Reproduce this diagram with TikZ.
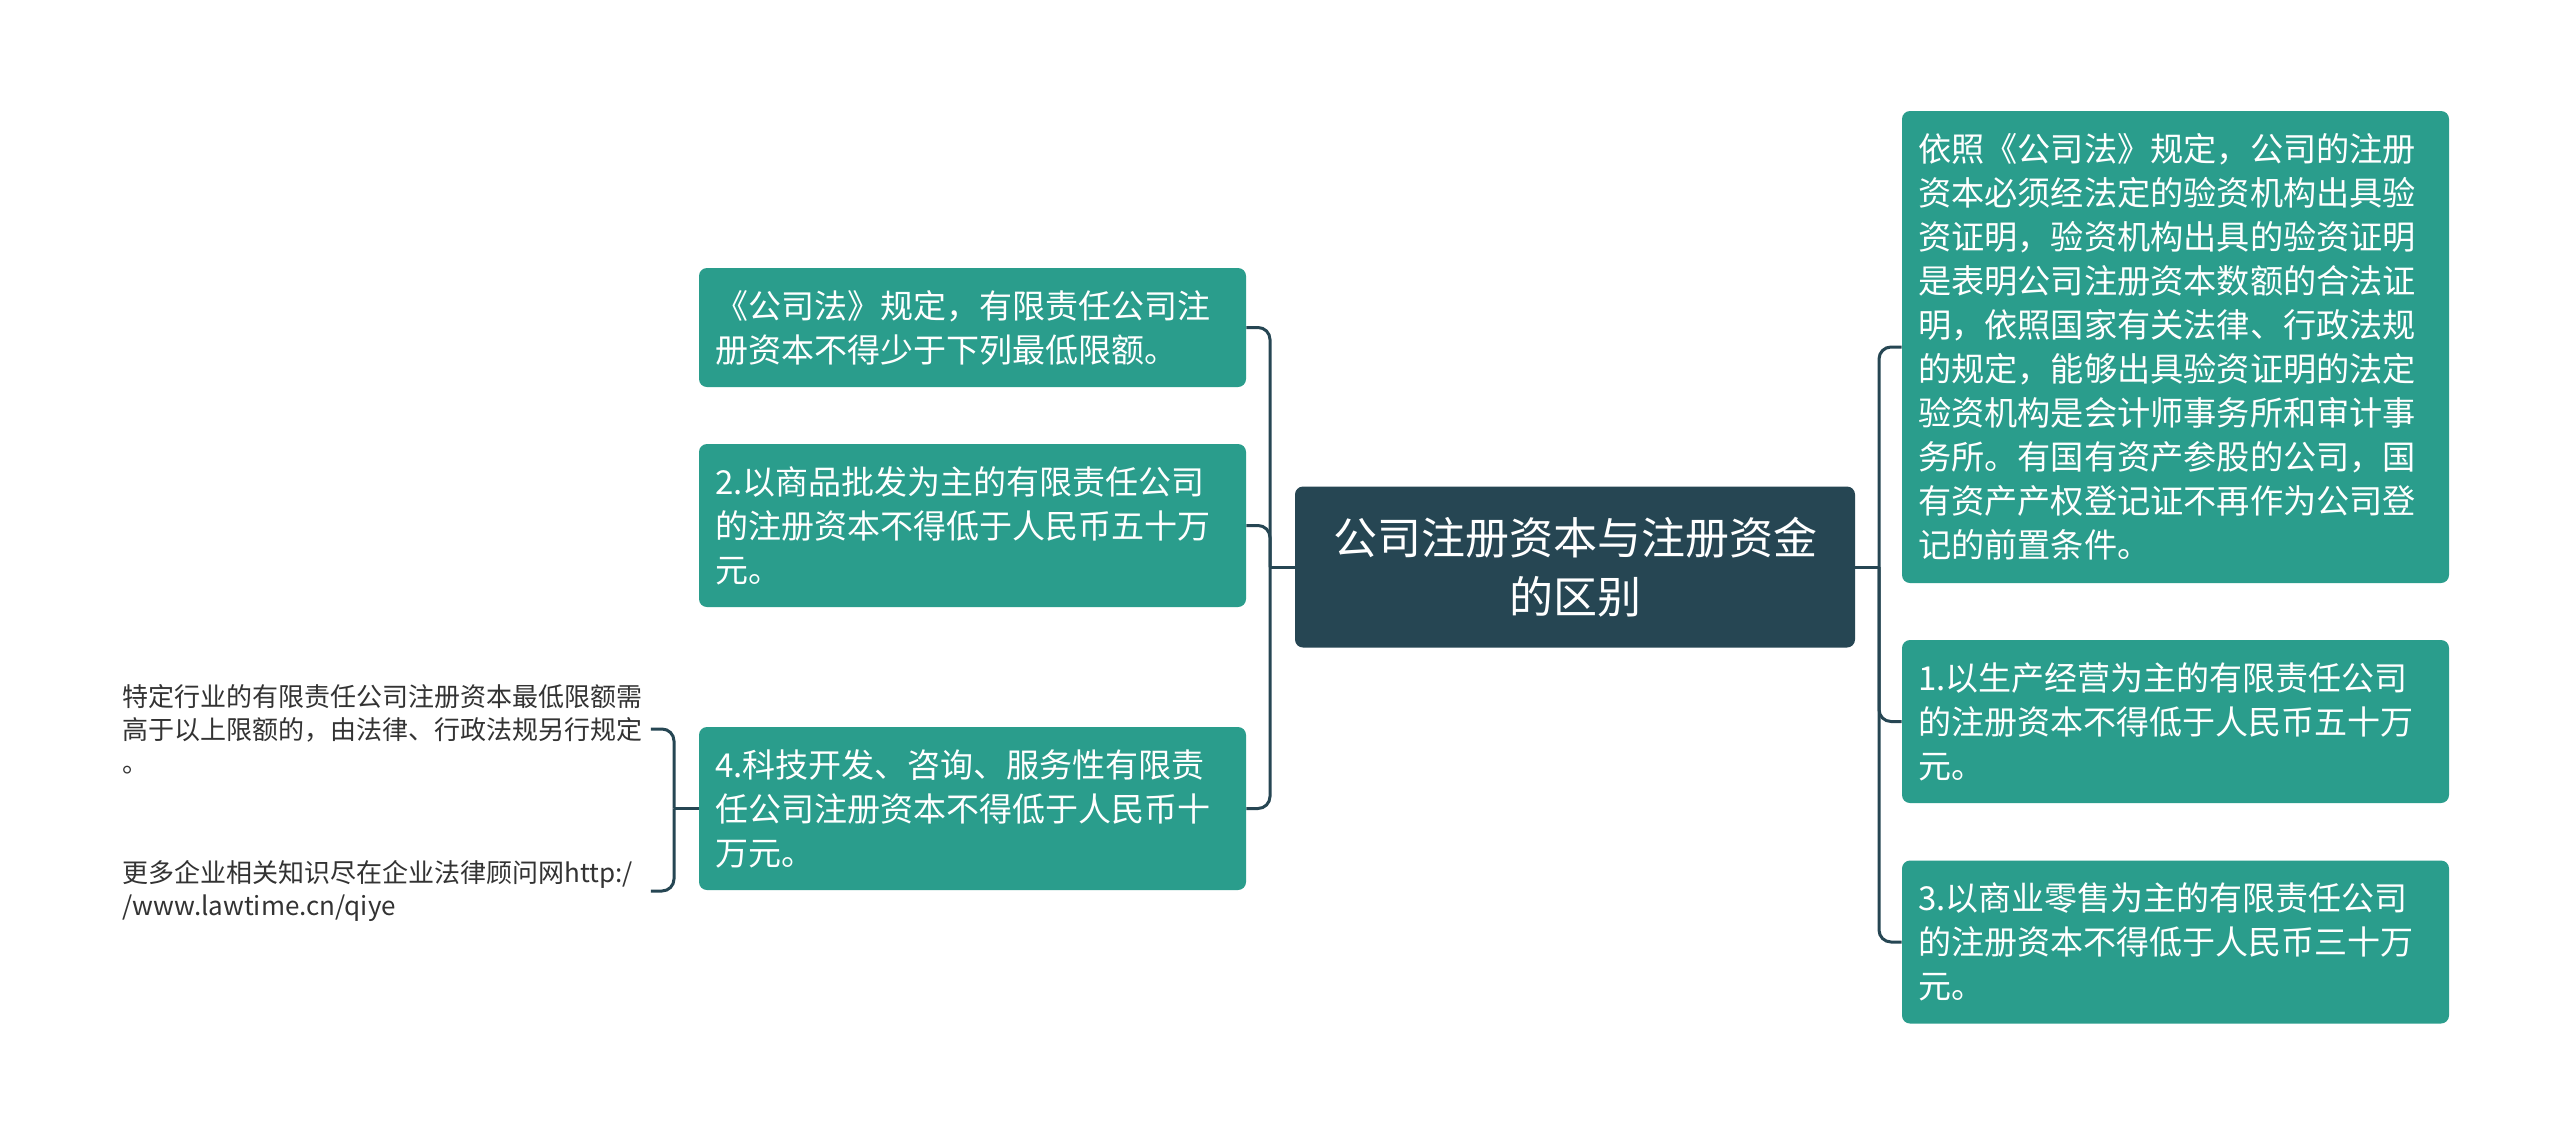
\documentclass[tikz,border=0pt]{standalone}
\usepackage{fontspec}
\setmainfont{Noto Sans CJK SC}
\definecolor{leafteal}{HTML}{2A9D8C}
\definecolor{rootblue}{HTML}{264653}
\definecolor{notegray}{HTML}{333333}
\tikzset{
  conn/.style={draw=rootblue, line width=1.5pt, rounded corners=6pt},
  rootbox/.style={rectangle, rounded corners=4pt, fill=rootblue, text=white, align=center,
    minimum width=280pt, minimum height=80.5pt, font=\fontsize{22}{29.5}\selectfont},
  leafbox/.style={rectangle, rounded corners=4pt, fill=leafteal, text=white, align=left,
    text width=257.5pt, inner xsep=8pt, minimum height=81.5pt, font=\fontsize{16.5}{22}\selectfont},
  notetext/.style={anchor=west, text=notegray, align=left, text width=259pt, inner xsep=5pt,
    font=\fontsize{13}{16.5}\selectfont},
}
\begin{document}
\begin{tikzpicture}[x=0.5pt,y=-0.5pt]
  \useasboundingbox[fill=white] (0,0) rectangle (2560,1137);

  % centre
  \node[rootbox] (root) at (1575,567) {公司注册资本与注册资金\\的区别};

  % left branch
  \node[leafbox, minimum height=59.5pt] (law) at (972.5,327.5)
    {《公司法》规定，有限责任公司注\\册资本不得少于下列最低限额。};
  \node[leafbox] (trade) at (972.5,525.5)
    {2.以商品批发为主的有限责任公司\\的注册资本不得低于人民币五十万\\元。};
  \node[leafbox] (tech) at (972.5,808.5)
    {4.科技开发、咨询、服务性有限责\\任公司注册资本不得低于人民币十\\万元。};

  % right branch
  \node[leafbox, minimum height=236pt, font=\fontsize{16.6}{22}\selectfont] (verify) at (2175.5,347)
    {依照《公司法》规定，公司的注册\\资本必须经法定的验资机构出具验\\资证明，验资机构出具的验资证明\\是表明公司注册资本数额的合法证\\明，依照国家有关法律、行政法规\\的规定，能够出具验资证明的法定\\验资机构是会计师事务所和审计事\\务所。有国有资产参股的公司，国\\有资产产权登记证不再作为公司登\\记的前置条件。};
  \node[leafbox] (produce) at (2175.5,721.5)
    {1.以生产经营为主的有限责任公司\\的注册资本不得低于人民币五十万\\元。};
  \node[leafbox] (retail) at (2175.5,942)
    {3.以商业零售为主的有限责任公司\\的注册资本不得低于人民币三十万\\元。};

  % notes under 4.
  \node[notetext] (special) at (112,729)
    {特定行业的有限责任公司注册资本最低限额需\\高于以上限额的，由法律、行政法规另行规定\\。};
  \node[notetext] (more) at (112,891)
    {更多企业相关知识尽在企业法律顾问网http:/\\/www.lawtime.cn/qiye};

  % connectors
  \coordinate (lspine) at (1270,567);
  \coordinate (rspine) at (1879,567);
  \coordinate (nspine) at (674,808.5);
  \draw[conn] (root.west) -- (lspine);
  \draw[conn] (lspine) |- (law.east);
  \draw[conn] (lspine) |- (trade.east);
  \draw[conn] (lspine) |- (tech.east);
  \draw[conn] (root.east) -- (rspine);
  \draw[conn] (rspine) |- (verify.west);
  \draw[conn] (rspine) |- (produce.west);
  \draw[conn] (rspine) |- (retail.west);
  \draw[conn] (tech.west) -- (nspine);
  \draw[conn] (nspine) |- (special.east);
  \draw[conn] (nspine) |- (more.east);
\end{tikzpicture}
\end{document}
